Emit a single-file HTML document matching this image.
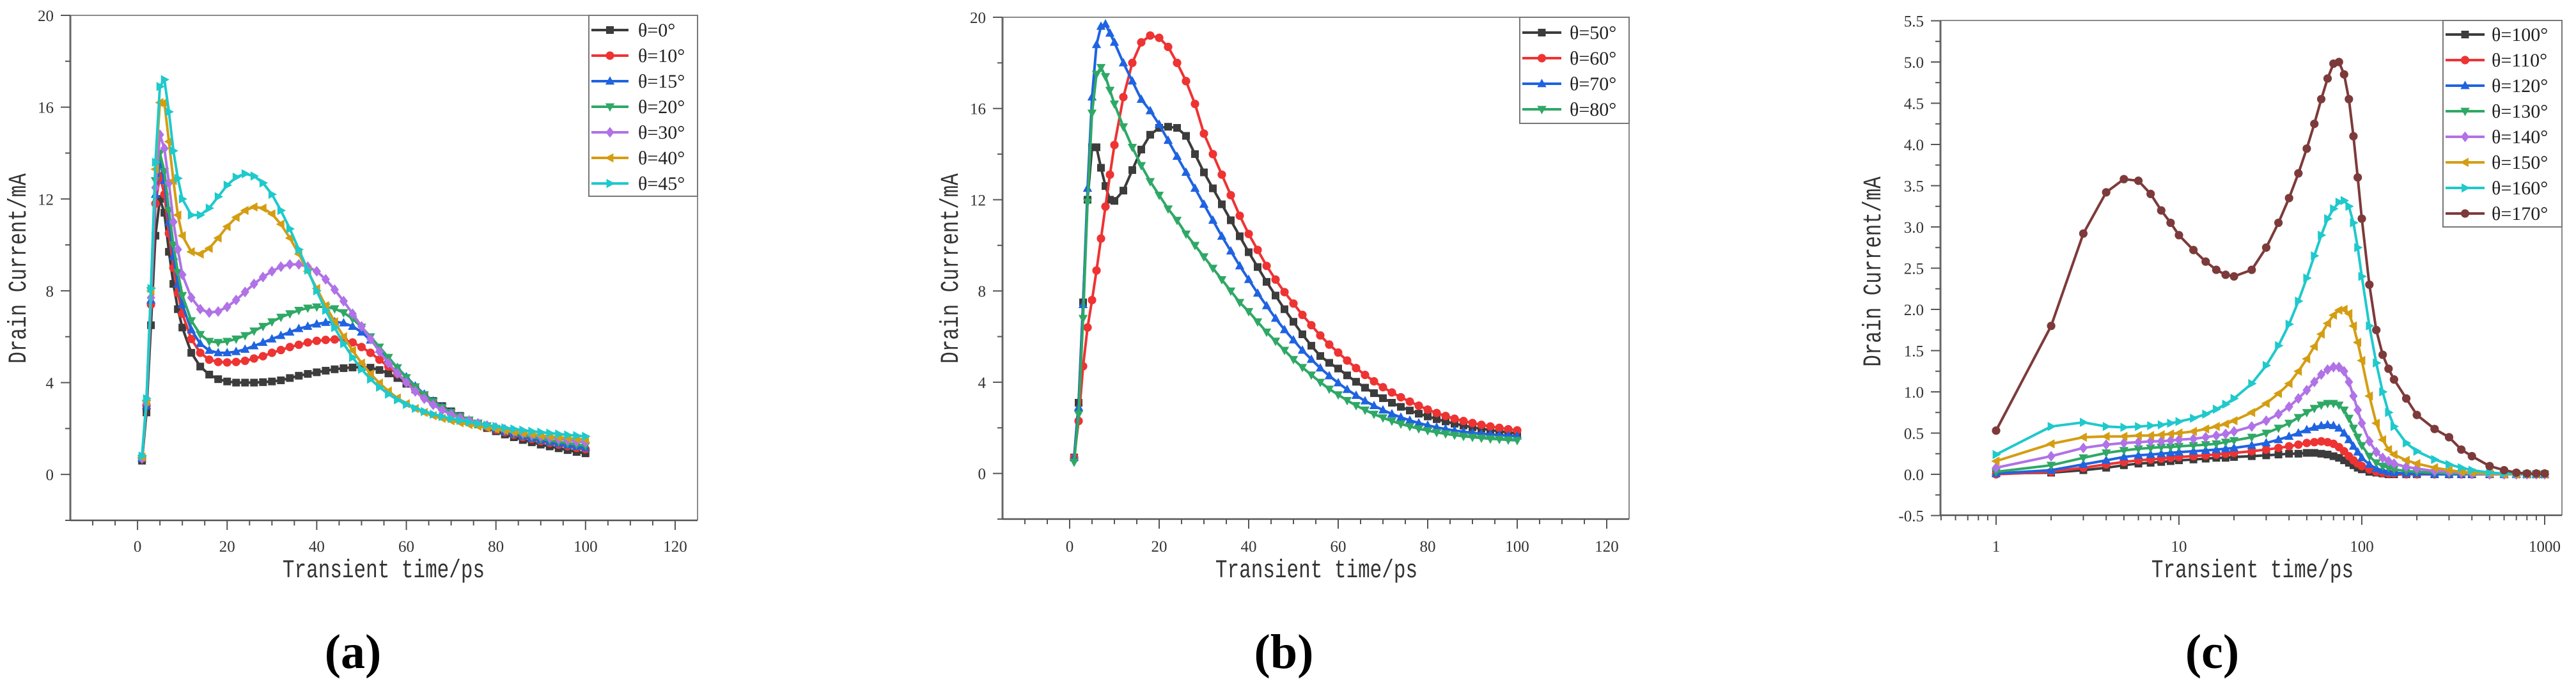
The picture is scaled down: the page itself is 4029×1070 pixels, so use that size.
<!DOCTYPE html>
<html><head><meta charset="utf-8">
<style>
html,body{margin:0;padding:0;background:#fff;}
svg{display:block;}
.tk{font-family:"Liberation Serif",serif;font-size:25px;fill:#333;}
.ttl{font-family:"Liberation Mono",monospace;font-size:31px;fill:#333;}
.lg{font-family:"Liberation Serif",serif;font-size:30px;fill:#222;}
.pl{font-family:"Liberation Serif",serif;font-size:76px;font-weight:bold;fill:#000;}
</style></head>
<body>
<svg id="fig" width="4029" height="1070" viewBox="0 0 4029 1070" xmlns="http://www.w3.org/2000/svg"></svg>
<script>
// ---------- Panel (a) data ----------
const xA = [1,2,3,4,5,6,7,8,9,10,12,14,16,18,20,22,24,26,28,30,32,34,36,38,40,42,44,46,48,50,52,54,56,58,60,62,64,66,68,70,72,74,76,78,80,82,84,86,88,90,92,94,96,98,100];
const namesA = ["θ=0°","θ=10°","θ=15°","θ=20°","θ=30°","θ=40°","θ=45°"];
const a0 = [0.6,2.7,6.5,10.4,12.0,11.4,9.7,8.3,7.2,6.4,5.3,4.7,4.35,4.15,4.05,4.0,4.0,4.0,4.02,4.05,4.1,4.2,4.3,4.38,4.45,4.52,4.58,4.63,4.66,4.68,4.65,4.55,4.4,4.2,3.95,3.7,3.45,3.2,2.98,2.75,2.55,2.35,2.18,2.02,1.88,1.74,1.62,1.5,1.4,1.3,1.22,1.14,1.06,0.98,0.92];
const a10 = [0.7,3.0,7.4,11.8,13.0,12.2,10.5,9.0,7.9,7.0,5.9,5.3,5.0,4.9,4.88,4.9,4.95,5.05,5.15,5.3,5.42,5.55,5.65,5.75,5.82,5.86,5.88,5.86,5.75,5.55,5.3,5.0,4.7,4.38,4.05,3.72,3.42,3.15,2.9,2.68,2.5,2.34,2.2,2.07,1.95,1.84,1.73,1.63,1.54,1.45,1.37,1.3,1.23,1.16,1.1];
const a15 = [0.7,3.0,7.6,12.2,13.6,12.8,11.0,9.5,8.3,7.4,6.3,5.7,5.4,5.3,5.3,5.35,5.45,5.6,5.75,5.9,6.05,6.2,6.35,6.45,6.55,6.62,6.65,6.6,6.45,6.2,5.85,5.45,5.05,4.65,4.25,3.85,3.5,3.2,2.95,2.72,2.53,2.37,2.23,2.1,1.98,1.87,1.77,1.67,1.58,1.5,1.42,1.35,1.28,1.22,1.17];
const a20 = [0.7,3.1,8.0,12.8,14.0,13.2,11.5,10.0,8.8,7.8,6.7,6.1,5.8,5.75,5.8,5.9,6.05,6.25,6.45,6.65,6.85,7.0,7.15,7.25,7.3,7.3,7.22,7.05,6.78,6.42,6.0,5.55,5.1,4.65,4.22,3.82,3.47,3.17,2.92,2.7,2.52,2.37,2.24,2.12,2.01,1.91,1.81,1.72,1.64,1.56,1.49,1.42,1.36,1.3,1.25];
const a30 = [0.7,3.1,7.7,12.5,14.8,14.2,12.7,11.0,9.8,8.7,7.7,7.2,7.05,7.1,7.3,7.6,7.95,8.3,8.6,8.85,9.05,9.15,9.15,9.05,8.85,8.5,8.05,7.55,7.0,6.45,5.9,5.35,4.85,4.4,4.0,3.62,3.3,3.03,2.8,2.61,2.46,2.34,2.23,2.13,2.04,1.96,1.88,1.8,1.73,1.67,1.61,1.55,1.49,1.44,1.4];
const a40 = [0.75,3.2,8.0,13.3,16.2,16.2,14.5,12.8,11.3,10.4,9.7,9.6,9.85,10.3,10.8,11.2,11.5,11.65,11.6,11.35,10.9,10.3,9.6,8.85,8.1,7.35,6.65,6.0,5.4,4.85,4.38,3.98,3.63,3.33,3.08,2.87,2.7,2.56,2.44,2.34,2.25,2.17,2.1,2.03,1.97,1.91,1.85,1.8,1.75,1.7,1.66,1.62,1.58,1.55,1.52];
const a45 = [0.8,3.3,8.1,13.6,16.9,17.2,15.8,14.1,12.9,12.0,11.3,11.3,11.6,12.1,12.6,12.95,13.1,13.0,12.7,12.2,11.5,10.7,9.8,8.9,8.0,7.15,6.4,5.7,5.1,4.58,4.15,3.8,3.5,3.25,3.05,2.88,2.74,2.62,2.52,2.43,2.35,2.28,2.21,2.15,2.09,2.03,1.98,1.93,1.88,1.84,1.8,1.76,1.72,1.69,1.66];

// ---------- Panel (b) data ----------
const xB = xA;
const namesB = ["θ=50°","θ=60°","θ=70°","θ=80°"];
const b50 = [0.7,3.1,7.5,12.0,14.3,14.3,13.4,12.6,12.0,11.95,12.4,13.3,14.2,14.85,15.15,15.2,15.15,14.8,14.0,13.2,12.5,11.8,11.1,10.4,9.7,9.05,8.4,7.8,7.2,6.65,6.1,5.6,5.15,4.85,4.6,4.3,4.02,3.76,3.52,3.3,3.1,2.92,2.76,2.62,2.5,2.38,2.28,2.18,2.1,2.02,1.96,1.9,1.85,1.8,1.76];
const b60 = [0.7,2.3,4.7,6.4,7.6,8.9,10.3,11.7,13.1,14.4,16.5,18.0,18.9,19.2,19.1,18.7,18.0,17.2,16.2,14.9,14.0,13.1,12.2,11.3,10.5,9.8,9.1,8.5,7.95,7.45,6.95,6.5,6.05,5.65,5.3,4.95,4.62,4.32,4.04,3.78,3.55,3.34,3.15,2.97,2.8,2.65,2.52,2.4,2.3,2.21,2.13,2.06,2.0,1.94,1.89];
const b70 = [0.7,2.9,7.4,12.5,16.5,18.8,19.6,19.7,19.3,18.9,18.0,17.2,16.4,15.9,15.3,14.6,13.9,13.2,12.5,11.8,11.1,10.4,9.75,9.1,8.5,7.9,7.35,6.8,6.3,5.85,5.4,5.0,4.62,4.28,3.97,3.68,3.42,3.18,2.97,2.78,2.61,2.46,2.33,2.21,2.11,2.02,1.95,1.88,1.83,1.78,1.74,1.71,1.68,1.66,1.64];
const b80 = [0.5,2.6,6.8,11.9,15.8,17.5,17.8,17.4,16.8,16.2,15.2,14.3,13.5,12.8,12.2,11.6,11.1,10.5,10.0,9.5,9.0,8.5,8.0,7.5,7.1,6.65,6.2,5.8,5.4,5.0,4.65,4.32,4.0,3.7,3.45,3.2,2.98,2.78,2.6,2.44,2.3,2.17,2.06,1.96,1.88,1.8,1.74,1.68,1.63,1.59,1.55,1.52,1.5,1.47,1.45];

// ---------- Panel (c) data ----------
const xC = [1,2,3,4,5,6,7,8,9,10,12,14,16,18,20,25,30,35,40,45,50,55,60,65,70,75,80,85,90,95,100,110,120,130,140,150,175,200,250,300,350,400,500,600,700,800,900,1000];
const namesC = ["θ=100°","θ=110°","θ=120°","θ=130°","θ=140°","θ=150°","θ=160°","θ=170°"];
const c100 = [0.01,0.02,0.05,0.08,0.11,0.13,0.14,0.15,0.16,0.17,0.18,0.19,0.2,0.2,0.21,0.22,0.23,0.24,0.25,0.25,0.26,0.26,0.25,0.24,0.22,0.2,0.17,0.14,0.11,0.08,0.06,0.03,0.02,0.01,0,0,0,0,0,0,0,0,0,0,0,0,0,0];
const c110 = [0.0,0.03,0.08,0.12,0.15,0.17,0.18,0.19,0.2,0.21,0.22,0.23,0.24,0.25,0.26,0.28,0.3,0.32,0.34,0.36,0.38,0.39,0.4,0.39,0.37,0.33,0.28,0.22,0.17,0.13,0.1,0.06,0.03,0.02,0.01,0.01,0,0,0,0,0,0,0,0,0,0,0,0];
const c120 = [0.01,0.05,0.12,0.17,0.21,0.23,0.24,0.25,0.26,0.27,0.28,0.29,0.3,0.31,0.32,0.35,0.38,0.42,0.46,0.5,0.54,0.57,0.59,0.6,0.59,0.56,0.5,0.42,0.34,0.27,0.2,0.12,0.07,0.05,0.03,0.02,0.01,0.01,0,0,0,0,0,0,0,0,0,0];
const c130 = [0.03,0.11,0.2,0.26,0.29,0.31,0.32,0.33,0.33,0.34,0.35,0.36,0.37,0.39,0.41,0.45,0.5,0.56,0.62,0.69,0.75,0.8,0.84,0.86,0.86,0.84,0.78,0.68,0.56,0.45,0.35,0.22,0.14,0.1,0.08,0.06,0.04,0.03,0.02,0.01,0.01,0,0,0,0,0,0,0];
const c140 = [0.08,0.22,0.32,0.36,0.38,0.39,0.4,0.4,0.41,0.42,0.43,0.45,0.47,0.49,0.52,0.58,0.65,0.73,0.82,0.92,1.02,1.12,1.21,1.27,1.3,1.3,1.25,1.12,0.95,0.78,0.62,0.4,0.27,0.2,0.16,0.13,0.09,0.07,0.04,0.03,0.02,0.01,0,0,0,0,0,0];
const c150 = [0.16,0.37,0.45,0.46,0.46,0.47,0.47,0.48,0.49,0.5,0.52,0.55,0.58,0.61,0.65,0.75,0.86,0.98,1.1,1.25,1.4,1.55,1.7,1.83,1.93,1.99,2.0,1.95,1.8,1.6,1.38,0.95,0.62,0.42,0.3,0.24,0.17,0.13,0.08,0.05,0.03,0.02,0.01,0,0,0,0,0];
const c160 = [0.24,0.58,0.63,0.58,0.57,0.58,0.59,0.6,0.62,0.64,0.68,0.73,0.79,0.85,0.92,1.1,1.32,1.56,1.82,2.1,2.38,2.65,2.9,3.1,3.22,3.3,3.32,3.25,3.05,2.75,2.4,1.8,1.35,1.0,0.75,0.58,0.38,0.28,0.18,0.12,0.08,0.05,0.02,0.01,0.005,0,0,0];
const c170 = [0.53,1.8,2.92,3.42,3.58,3.56,3.4,3.2,3.05,2.9,2.72,2.58,2.48,2.42,2.4,2.48,2.75,3.05,3.35,3.65,3.95,4.25,4.55,4.8,4.98,5.0,4.85,4.55,4.1,3.6,3.1,2.3,1.75,1.45,1.28,1.15,0.92,0.72,0.55,0.45,0.3,0.22,0.1,0.05,0.02,0.01,0.01,0.01];

const ticksAB_x = [0,20,40,60,80,100,120];
const ticksAB_y = [0,4,8,12,16,20];
const ticksC_x = [1,10,100,1000];
const ticksC_y = [-0.5,0.0,0.5,1.0,1.5,2.0,2.5,3.0,3.5,4.0,4.5,5.0,5.5];

const COL = {black:"#3c3c3c",red:"#ee3333",blue:"#1f63e0",green:"#2fa866",purple:"#b072e6",gold:"#d49d12",cyan:"#1fc9cc",brown:"#7d3a3a"};

const NS = "http://www.w3.org/2000/svg";
const fig = document.getElementById("fig");
function mk(tag, attrs, parent){
  const e = document.createElementNS(NS, tag);
  for (const k in attrs) e.setAttribute(k, attrs[k]);
  (parent||fig).appendChild(e);
  return e;
}

function marker(g, shape, x, y, s, color){
  let e;
  if (shape==="square") e = mk("rect",{x:x-s,y:y-s,width:2*s,height:2*s,fill:color},g);
  else if (shape==="circle") e = mk("circle",{cx:x,cy:y,r:s*1.1,fill:color},g);
  else {
    let p;
    if (shape==="up") p=[[x,y-s*1.3],[x+s*1.2,y+s*0.9],[x-s*1.2,y+s*0.9]];
    else if (shape==="down") p=[[x,y+s*1.3],[x+s*1.2,y-s*0.9],[x-s*1.2,y-s*0.9]];
    else if (shape==="diamond") p=[[x,y-s*1.4],[x+s*1.1,y],[x,y+s*1.4],[x-s*1.1,y]];
    else if (shape==="left") p=[[x-s*1.3,y],[x+s*0.9,y-s*1.2],[x+s*0.9,y+s*1.2]];
    else p=[[x+s*1.3,y],[x-s*0.9,y-s*1.2],[x-s*0.9,y+s*1.2]];
    e = mk("polygon",{points:p.map(q=>q.join(",")).join(" "),fill:color},g);
  }
  
  
}

function panel(cfg){
  const P = mk("g",{});
  
  
  const {L,R,T,B} = cfg;
  const xs = cfg.xs, ys = cfg.ys;
  const frame = mk("path",{d:`M${L},${T} H${R} V${B}`,stroke:"#8a8a8a","stroke-width":2,fill:"none"},P);
  
  
  const yax = mk("line",{x1:L,y1:T,x2:L,y2:B,stroke:"#666","stroke-width":3},P);
  
  
  const xax = mk("line",{x1:L,y1:B,x2:R,y2:B,stroke:"#555","stroke-width":2.5},P);
  
  
  cfg.yt.forEach(v=>{
    const y = ys(v);
    mk("line",{x1:L-15,y1:y,x2:L,y2:y,stroke:"#555","stroke-width":2},P);
    const t = mk("text",{x:L-26,y:y+9,"text-anchor":"end",class:"tk"},P);
    t.textContent = cfg.yfmt(v);
    
    
  });
  cfg.ymin.forEach(v=>{ const y=ys(v); mk("line",{x1:L-8,y1:y,x2:L,y2:y,stroke:"#555","stroke-width":2},P); });
  cfg.xt.forEach(v=>{
    const x = xs(v);
    mk("line",{x1:x,y1:B,x2:x,y2:B+15,stroke:"#555","stroke-width":2},P);
    const t = mk("text",{x:x,y:863,"text-anchor":"middle",class:"tk"},P);
    t.textContent = String(v);
    
    
  });
  cfg.xmin.forEach(v=>{ const x=xs(v); mk("line",{x1:x,y1:B,x2:x,y2:B+8,stroke:"#555","stroke-width":2},P); });
  const xt = mk("text",{x:0,y:0,"text-anchor":"middle",class:"ttl",transform:`translate(${cfg.xtx},903) scale(1,1.3)`},P);
  xt.textContent = "Transient time/ps";
  
  
  const yt = mk("text",{x:0,y:0,"text-anchor":"middle",class:"ttl",transform:`translate(${cfg.ytx},${cfg.yty}) rotate(-90) scale(1,1.3)`},P);
  yt.textContent = "Drain Current/mA";
  
  
  cfg.series.forEach((s,i)=>{
    const g = mk("g",{},P);
    
    
    const pts = cfg.xd.map((x,j)=>[xs(x), ys(s.vals[j])]);
    const pl = mk("polyline",{points:pts.map(p=>p[0].toFixed(1)+","+p[1].toFixed(1)).join(" "),fill:"none",stroke:s.color,"stroke-width":4,"stroke-linejoin":"round"},g);
    
    
    pts.forEach(p=>marker(g, s.shape, p[0], p[1], cfg.ms, s.color));
  });
  const lg = mk("g",{},P);
  
  
  const lb = cfg.leg;
  mk("rect",{x:lb.x0,y:T,width:R-lb.x0,height:lb.h,fill:"#fff",stroke:"#777","stroke-width":2},lg);
  cfg.series.forEach((s,i)=>{
    const y = lb.y0 + i*40;
    const e = mk("g",{},lg);
    
    
    mk("line",{x1:lb.l0,y1:y,x2:lb.l1,y2:y,stroke:s.color,"stroke-width":4},e);
    marker(e, s.shape, (lb.l0+lb.l1)/2, y, 6, s.color);
    const t = mk("text",{x:lb.tx,y:y+10,class:"lg"},e);
    t.textContent = s.name;
  });
  const pl = mk("text",{x:cfg.plx,y:1045,"text-anchor":"middle",class:"pl"},P);
  pl.textContent = cfg.label;
  
  
}

function linX(L){ return v => L + (v+15)*(981/140); }
function linY(v){ return 24 + (20-v)*((814-24)/22); }
const minorAB_x = [-10,-5,5,10,15,25,30,35,45,50,55,65,70,75,85,90,95,105,110,115];
const minorAB_y = [-2,2,6,10,14,18];

panel({id:"panel-a",L:110,R:1091,T:24,B:814,xs:linX(110),ys:linY,xt:ticksAB_x,yt:ticksAB_y,xmin:minorAB_x,ymin:minorAB_y,
  yfmt:v=>String(v),xd:xA,ms:6,xtx:600,ytx:40,yty:420,plx:552,label:"(a)",
  leg:{x0:921,h:283,y0:47,l0:925,l1:983,tx:998},
  series:[
    {name:namesA[0],vals:a0,color:COL.black,shape:"square"},
    {name:namesA[1],vals:a10,color:COL.red,shape:"circle"},
    {name:namesA[2],vals:a15,color:COL.blue,shape:"up"},
    {name:namesA[3],vals:a20,color:COL.green,shape:"down"},
    {name:namesA[4],vals:a30,color:COL.purple,shape:"diamond"},
    {name:namesA[5],vals:a40,color:COL.gold,shape:"left"},
    {name:namesA[6],vals:a45,color:COL.cyan,shape:"right"}]});

panel({id:"panel-b",L:1568,R:2548,T:27,B:812,xs:v=>1568+(v+15)*(980/140),ys:v=>27+(20-v)*((812-27)/22),xt:ticksAB_x,yt:ticksAB_y,xmin:minorAB_x,ymin:minorAB_y,
  yfmt:v=>String(v),xd:xB,ms:6,xtx:2059,ytx:1498,yty:420,plx:2008,label:"(b)",
  leg:{x0:2377,h:166,y0:51,l0:2381,l1:2442,tx:2455},
  series:[
    {name:namesB[0],vals:b50,color:COL.black,shape:"square"},
    {name:namesB[1],vals:b60,color:COL.red,shape:"circle"},
    {name:namesB[2],vals:b70,color:COL.blue,shape:"up"},
    {name:namesB[3],vals:b80,color:COL.green,shape:"down"}]});

const minorC_x = [];
[0.1,1,10,100].forEach(d=>{for(let k=2;k<10;k++){const v=d*k; if(v>=0.5&&v<=1250) minorC_x.push(v);}});
const minorC_y = ticksC_y.slice(0,-1).map(v=>v+0.25);
panel({id:"panel-c",L:3035,R:4007,T:32,B:806,xs:v=>3122+Math.log10(v)*286,ys:v=>742-v*129,xt:ticksC_x,yt:ticksC_y,xmin:minorC_x,ymin:minorC_y,
  yfmt:v=>v.toFixed(1),xd:xC,ms:6,xtx:3523,ytx:2941,yty:425,plx:3460,label:"(c)",
  leg:{x0:3821,h:323,y0:54,l0:3825,l1:3886,tx:3897},
  series:[
    {name:namesC[0],vals:c100,color:COL.black,shape:"square"},
    {name:namesC[1],vals:c110,color:COL.red,shape:"circle"},
    {name:namesC[2],vals:c120,color:COL.blue,shape:"up"},
    {name:namesC[3],vals:c130,color:COL.green,shape:"down"},
    {name:namesC[4],vals:c140,color:COL.purple,shape:"diamond"},
    {name:namesC[5],vals:c150,color:COL.gold,shape:"left"},
    {name:namesC[6],vals:c160,color:COL.cyan,shape:"right"},
    {name:namesC[7],vals:c170,color:COL.brown,shape:"circle"}]});
</script>
</body></html>
